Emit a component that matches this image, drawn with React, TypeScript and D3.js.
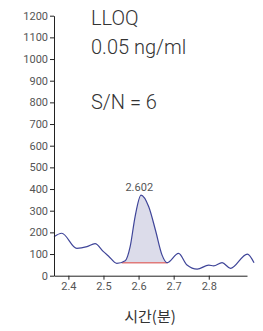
import React, { useEffect, useRef } from "react";
import * as d3 from "d3";

// chromatogram trace
const times = [2.359, 2.381, 2.424, 2.453, 2.476, 2.5, 2.514, 2.538, 2.562, 2.576, 2.59, 2.607, 2.629, 2.648, 2.667, 2.681, 2.714, 2.738, 2.767, 2.8, 2.814, 2.838, 2.862, 2.91, 2.929];
const signal = [180, 196, 126, 134, 148, 111, 91, 57, 69, 134, 272, 372, 318, 211, 95, 60, 103, 49, 30, 49, 45, 60, 34, 100, 60];
const xTicks = [2.4, 2.5, 2.6, 2.7, 2.8];
const yTicks = [0, 100, 200, 300, 400, 500, 600, 700, 800, 900, 1000, 1100, 1200];
const peakStart = 2.552;
const peakEnd = 2.683;
const baseline = 60;
const peakLabel = "2.602";
const notes = ["LLOQ", "0.05 ng/ml", "S/N = 6"];

export default function App() {
  const ref = useRef<SVGSVGElement>(null);

  useEffect(() => {
    const svg = d3.select(ref.current);
    svg.selectAll("*").remove();

    const x = d3.scaleLinear().domain([2.359, 2.909]).range([54, 247]);
    const y = d3.scaleLinear().domain([0, 1200]).range([275.7, 15.7]);

    const pts: [number, number][] = times.map((t, i) => [t, signal[i]]);
    const line = d3.line<[number, number]>()
      .x(d => x(d[0])).y(d => y(d[1]))
      .curve(d3.curveMonotoneX);

    // peak area, clipped between start and end
    svg.append("clipPath").attr("id", "pk")
      .append("rect")
      .attr("x", x(peakStart)).attr("width", x(peakEnd) - x(peakStart))
      .attr("y", 0).attr("height", y(baseline));
    const area = d3.area<[number, number]>()
      .x(d => x(d[0])).y0(y(baseline)).y1(d => y(d[1]))
      .curve(d3.curveMonotoneX);
    svg.append("path").attr("d", area(pts)).attr("fill", "#dcdcea")
      .attr("clip-path", "url(#pk)");
    svg.append("line")
      .attr("x1", x(peakStart)).attr("x2", x(peakEnd))
      .attr("y1", y(baseline)).attr("y2", y(baseline))
      .attr("stroke", "#e07a7a").attr("stroke-width", 1.5);

    svg.append("path").attr("d", line(pts)).attr("fill", "none")
      .attr("stroke", "#3f4599").attr("stroke-width", 1.2);

    const font = "Roboto, sans-serif";
    const yAxis = svg.append("g").attr("transform", "translate(54,0)")
      .call(d3.axisLeft(y).tickValues(yTicks).tickSize(4).tickSizeOuter(0).tickFormat(d3.format("d")));
    const xAxis = svg.append("g").attr("transform", "translate(0,275.7)")
      .call(d3.axisBottom(x).tickValues(xTicks).tickSize(4).tickSizeOuter(0).tickFormat(d3.format(".1f")));
    [yAxis, xAxis].forEach(g => {
      g.select(".domain").attr("stroke", "#222");
      g.selectAll("line").attr("stroke", "#222");
      g.selectAll("text").attr("fill", "#555").style("font-family", font).style("font-size", "11px");
    });
    yAxis.selectAll("text").attr("x", -6);

    svg.append("text").attr("x", x(2.602)).attr("y", 191)
      .attr("text-anchor", "middle").attr("fill", "#555")
      .style("font-family", font).style("font-size", "11px").text(peakLabel);

    const noteY = [25, 54, 109];
    notes.forEach((n, i) => {
      svg.append("text").attr("x", 91).attr("y", noteY[i]).attr("fill", "#333")
        .style("font-family", font).style("font-size", "20px").style("font-weight", 300).text(n);
    });

    svg.append("text").attr("x", 150).attr("y", 322).attr("text-anchor", "middle")
      .attr("fill", "#333").style("font-family", "'Noto Sans CJK KR', sans-serif")
      .style("font-size", "15px").text("시간(분)");
  }, []);

  return (
    <svg ref={ref} width={263} height={331}
      style={{ position: "absolute", left: 0, top: 0, background: "#fff" }} />
  );
}
